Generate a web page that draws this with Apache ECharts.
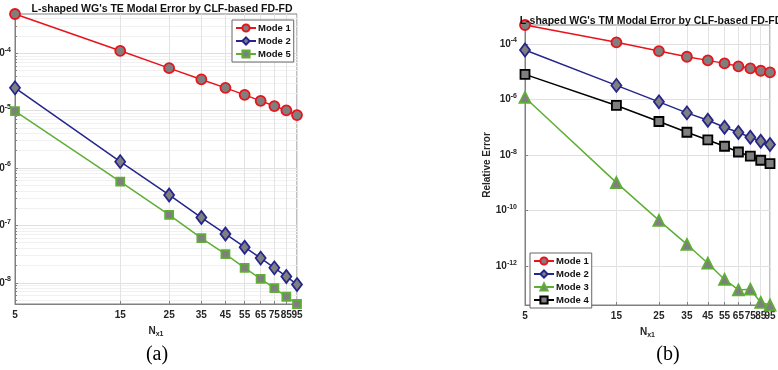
<!DOCTYPE html>
<html>
<head>
<meta charset="utf-8">
<script src="https://cdn.jsdelivr.net/npm/echarts@6/dist/echarts.min.js"></script>
<style>
  html, body { margin: 0; background: #fff; }
  #main { width: 778px; height: 370px; }
</style>
</head>
<body>
<div id="main"></div>
<script>
// N_x1 sample points (log x axis)
const nx = [5, 15, 25, 35, 45, 55, 65, 75, 85, 95];

// (a) TE modal error
const teMode1 = [4.82e-4, 1.10e-4, 5.49e-5, 3.49e-5, 2.49e-5, 1.88e-5, 1.48e-5, 1.20e-5, 1.01e-5, 8.36e-6];
const teMode2 = [2.49e-5, 1.29e-6, 3.39e-7, 1.37e-7, 7.1e-8, 4.17e-8, 2.69e-8, 1.82e-8, 1.29e-8, 9.3e-9];
const teMode5 = [9.8e-6, 5.78e-7, 1.52e-7, 5.98e-8, 3.16e-8, 1.82e-8, 1.17e-8, 8.1e-9, 5.71e-9, 4.27e-9];

// (b) TM modal error
const tmMode1 = [4.85e-4, 1.15e-4, 5.58e-5, 3.48e-5, 2.58e-5, 2.01e-5, 1.57e-5, 1.33e-5, 1.09e-5, 9.5e-6];
const tmMode2 = [6.07e-5, 3.24e-6, 8.27e-7, 3.31e-7, 1.8e-7, 1.01e-7, 6.5e-8, 4.4e-8, 3.16e-8, 2.4e-8];
const tmMode3 = [1.19e-6, 1.02e-9, 4.43e-11, 6.03e-12, 1.27e-12, 3.3e-13, 1.39e-13, 1.47e-13, 4.9e-14, 3.97e-14];
const tmMode4 = [8.05e-6, 6.12e-7, 1.62e-7, 6.65e-8, 3.5e-8, 2.08e-8, 1.29e-8, 9.1e-9, 6.5e-9, 4.9e-9];

// tick labels; x labels split over two axes so crowded ones can overlap like the original
const xLabelsA = [5, 25, 45, 65, 85];
const xLabelsB = [15, 35, 55, 75, 95];
const teYTicks = [1e-8, 1e-7, 1e-6, 1e-5, 1e-4];
const tmYTicks = [1e-12, 1e-10, 1e-8, 1e-6, 1e-4];

const teMin = Math.min(...teMode1, ...teMode2, ...teMode5);
const teMax = Math.max(...teMode1, ...teMode2, ...teMode5);
const tmMin = Math.min(...tmMode1, ...tmMode2, ...tmMode3, ...tmMode4);
const tmMax = Math.max(...tmMode1, ...tmMode2, ...tmMode3, ...tmMode4);

// minor log ticks (2..9 x 10^e) inside the TE range
const teMinor = [];
for (let e = -9; e <= -4; e++) {
    for (let m = 2; m <= 9; m++) {
        const v = m * Math.pow(10, e);
        if (v > teMin && v < teMax) teMinor.push(v);
    }
}

const RED = '#e8141b';
const BLUE = '#25258c';
const GREEN = '#5fae35';
const BLACK = '#000000';
const FILL = '#7f7f7f';
const AXIS = '#808080';
const FONT = '"Liberation Sans", Arial, sans-serif';
const X_MAX = 95 * (1 + 1e-9); // a hair above 95 so the last custom tick survives float rounding

const pairs = (ys) => nx.map((x, i) => [x, ys[i]]);

const expLabel = (v) => {
    const e = Math.round(Math.log10(v));
    return '{b|10}{s|' + e + '}';
};
const labelRich = {
    b: { fontSize: 10, fontWeight: 'bold', color: '#262626', fontFamily: FONT },
    s: { fontSize: 7, fontWeight: 'bold', color: '#262626', fontFamily: FONT, padding: [0, 0, 7, 0] }
};

const xName = '{n|N}{sub|x1}';
const xNameStyle = {
    rich: {
        n: { fontSize: 10, fontWeight: 'bold', color: '#262626', fontFamily: FONT },
        sub: { fontSize: 7, fontWeight: 'bold', color: '#262626', fontFamily: FONT, padding: [7, 0, 0, 0] }
    }
};

const xLabelStyle = {
    formatter: (v) => String(Math.round(v)),
    fontSize: 10, fontWeight: 'bold', color: '#262626', fontFamily: FONT, margin: 6,
    hideOverlap: false, showMinLabel: true, showMaxLabel: true
};

function xAxisOf(gridIndex) {
    return {
        type: 'log',
        gridIndex,
        min: 5,
        max: X_MAX,
        position: 'bottom',
        name: xName,
        nameLocation: 'middle',
        nameGap: 20,
        nameTextStyle: xNameStyle,
        axisLine: { lineStyle: { color: AXIS } },
        axisTick: { inside: true, length: 3, customValues: nx, lineStyle: { color: AXIS } },
        axisLabel: Object.assign({ customValues: xLabelsA }, xLabelStyle),
        splitLine: { show: true, lineStyle: { color: '#e3e3e3' } }
    };
}

// label-only axis carrying the other half of the tick labels
function xLabelAxisOf(gridIndex) {
    return {
        type: 'log',
        gridIndex,
        min: 5,
        max: X_MAX,
        position: 'bottom',
        offset: 0,
        axisLine: { show: false },
        axisTick: { show: false },
        splitLine: { show: false },
        axisLabel: Object.assign({ customValues: xLabelsB }, xLabelStyle)
    };
}

function mkSeries(name, ys, color, symbol, size, xi, yi) {
    return {
        type: 'line',
        name,
        data: pairs(ys),
        xAxisIndex: xi,
        yAxisIndex: yi,
        symbol,
        symbolSize: size,
        showAllSymbol: true,
        lineStyle: { color, width: 1.5 },
        itemStyle: { color: FILL, borderColor: color, borderWidth: 1.8 },
        emphasis: { disabled: true },
        z: 3
    };
}

const legendBase = {
    orient: 'vertical',
    itemWidth: 20,
    itemHeight: 9,
    itemGap: 3,
    padding: [3, 3, 3, 3],
    borderColor: '#666',
    borderWidth: 1,
    borderRadius: 0,
    backgroundColor: '#fff',
    selectedMode: false,
    textStyle: { fontSize: 9.5, fontWeight: 'bold', color: '#111', fontFamily: FONT, padding: [0, 0, 0, -3] }
};

const chart = echarts.init(document.getElementById('main'), null, { renderer: 'canvas' });

chart.setOption({
    animation: false,
    backgroundColor: '#fff',
    textStyle: { fontFamily: FONT },
    title: [
        { text: "L-shaped WG's TE Modal Error by CLF-based FD-FD", left: 157, top: -1, textAlign: 'center',
          textStyle: { fontSize: 10.5, fontWeight: 'bold', color: '#111', fontFamily: FONT } },
        { text: "L-shaped WG's TM Modal Error by CLF-based FD-FD", left: 646, top: 11, textAlign: 'center',
          textStyle: { fontSize: 10.5, fontWeight: 'bold', color: '#111', fontFamily: FONT } },
        { text: '(a)', left: 152, top: 340, textAlign: 'center',
          textStyle: { fontSize: 20, fontWeight: 'normal', color: '#000', fontFamily: '"Liberation Serif", "Times New Roman", serif' } },
        { text: '(b)', left: 663, top: 340, textAlign: 'center',
          textStyle: { fontSize: 20, fontWeight: 'normal', color: '#000', fontFamily: '"Liberation Serif", "Times New Roman", serif' } }
    ],
    legend: [
        Object.assign({}, legendBase, { left: 232, top: 20, data: ['Mode 1', 'Mode 2', 'Mode 5'] }),
        Object.assign({}, legendBase, { left: 530, top: 253, data: ['Mode 1', 'Mode 2', 'Mode 3', 'Mode 4'] })
    ],
    grid: [
        { left: 15, top: 14, width: 282, height: 290, show: true, borderColor: AXIS, borderWidth: 1,
          backgroundColor: 'transparent', containLabel: false, outerBoundsMode: 'none' },
        { left: 525, top: 25, width: 245, height: 280, show: true, borderColor: AXIS, borderWidth: 1,
          backgroundColor: 'transparent', containLabel: false, outerBoundsMode: 'none' }
    ],
    xAxis: [xAxisOf(0), xAxisOf(1), xLabelAxisOf(0), xLabelAxisOf(1)],
    yAxis: [
        {
            type: 'log', gridIndex: 0, min: teMin, max: teMax,
            axisLine: { show: true, lineStyle: { color: AXIS } },
            axisTick: { inside: true, length: 3, customValues: teYTicks, lineStyle: { color: AXIS } },
            axisLabel: { customValues: teYTicks, formatter: expLabel, rich: labelRich, margin: 4 },
            splitLine: { show: true, lineStyle: { color: '#e0e0e0' } }
        },
        {
            type: 'log', gridIndex: 1, min: tmMin, max: tmMax,
            name: 'Relative Error', nameLocation: 'middle', nameGap: 32,
            nameTextStyle: { fontSize: 10, fontWeight: 'bold', color: '#262626', fontFamily: FONT },
            axisLine: { show: true, lineStyle: { color: AXIS } },
            axisTick: { inside: true, length: 3, customValues: tmYTicks, lineStyle: { color: AXIS } },
            axisLabel: { customValues: tmYTicks, formatter: expLabel, rich: labelRich, margin: 8 },
            splitLine: { show: true, lineStyle: { color: '#e0e0e0' } }
        },
        {
            // minor grid for (a)
            type: 'log', gridIndex: 0, min: teMin, max: teMax, position: 'left', offset: 0,
            axisLine: { show: false },
            axisTick: { inside: true, length: 2, customValues: teMinor, lineStyle: { color: AXIS } },
            axisLabel: { show: false },
            splitLine: { show: true, lineStyle: { color: '#f1f1f1' } }
        }
    ],
    series: [
        mkSeries('Mode 1', teMode1, RED, 'circle', 10, 0, 0),
        mkSeries('Mode 2', teMode2, BLUE, 'diamond', [10, 13], 0, 0),
        mkSeries('Mode 5', teMode5, GREEN, 'rect', 8, 0, 0),
        mkSeries('Mode 1', tmMode1, RED, 'circle', 10, 1, 1),
        mkSeries('Mode 2', tmMode2, BLUE, 'diamond', [10, 13], 1, 1),
        mkSeries('Mode 3', tmMode3, GREEN, 'triangle', 11, 1, 1),
        mkSeries('Mode 4', tmMode4, BLACK, 'rect', 9, 1, 1)
    ]
});
</script>
</body>
</html>
